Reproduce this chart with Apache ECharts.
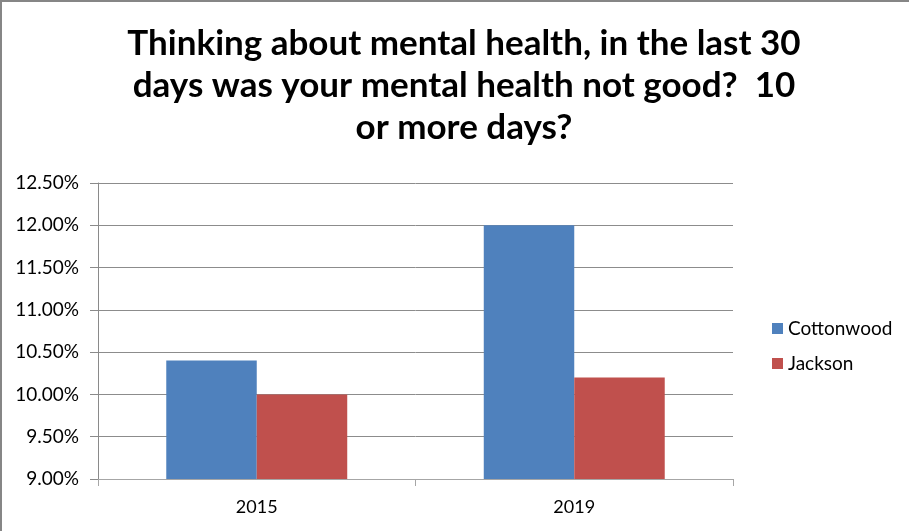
<!DOCTYPE html>
<html>
<head>
<meta charset="utf-8">
<script src="https://cdn.jsdelivr.net/npm/echarts@6/dist/echarts.min.js"></script>
<style>
  html, body { margin: 0; padding: 0; background: #fff; }
  #chart { width: 909px; height: 531px; }
</style>
</head>
<body>
<div id="chart"></div>
<script>
// Survey years on the category axis
const years = ['2015', '2019'];
// Share of adults reporting 10+ poor mental health days (percent)
const cottonwood = [10.4, 12.0];
const jackson = [10.0, 10.2];
const seriesNames = ['Cottonwood', 'Jackson'];
const titleText = 'Thinking about mental health, in the last 30\ndays was your mental health not good?  10\nor more days?';

const chart = echarts.init(document.getElementById('chart'));
const fontFamily = 'Lato, "Open Sans", sans-serif';

chart.setOption({
  animation: false,
  backgroundColor: '#ffffff',
  title: {
    text: titleText,
    left: 459,
    top: 18,
    textAlign: 'center',
    textStyle: {
      fontFamily: fontFamily,
      fontWeight: 'bold',
      fontSize: 35,
      lineHeight: 42,
      color: '#000000'
    }
  },
  legend: {
    orient: 'vertical',
    left: 767,
    top: 314,
    itemWidth: 11,
    itemHeight: 11,
    itemGap: 16,
    icon: 'rect',
    textStyle: { fontFamily: fontFamily, fontSize: 19, color: '#000000', padding: [0, 0, 0, 0] },
    data: seriesNames
  },
  grid: { left: 98, right: 176, top: 183, bottom: 52, containLabel: false },
  xAxis: {
    type: 'category',
    data: years,
    axisLine: { lineStyle: { color: '#a6a6a6', width: 1 } },
    axisTick: { show: true, length: 7, lineStyle: { color: '#a6a6a6' } },
    axisLabel: { fontFamily: fontFamily, fontSize: 18, color: '#000000', margin: 19 }
  },
  yAxis: {
    type: 'value',
    min: 9,
    max: 12.5,
    interval: 0.5,
    axisLine: { show: true, lineStyle: { color: '#8a8a8a', width: 1 } },
    axisTick: { show: true, length: 8, lineStyle: { color: '#8a8a8a' } },
    splitLine: { lineStyle: { color: '#8c8c8c', width: 1 } },
    axisLabel: {
      fontFamily: fontFamily,
      fontSize: 19,
      color: '#000000',
      margin: 19,
      formatter: v => v.toFixed(2) + '%'
    }
  },
  series: [
    {
      name: seriesNames[0],
      type: 'bar',
      data: cottonwood,
      barGap: '0%',
      barCategoryGap: '43%',
      itemStyle: { color: '#4f81bd' }
    },
    {
      name: seriesNames[1],
      type: 'bar',
      data: jackson,
      itemStyle: { color: '#c0504d' }
    }
  ],
  graphic: [
    { type: 'line', shape: { x1: 0, y1: 1, x2: 909, y2: 1 }, style: { stroke: '#868686', lineWidth: 2 } },
    { type: 'line', shape: { x1: 1, y1: 0, x2: 1, y2: 531 }, style: { stroke: '#868686', lineWidth: 2 } }
  ]
});
</script>
</body>
</html>
